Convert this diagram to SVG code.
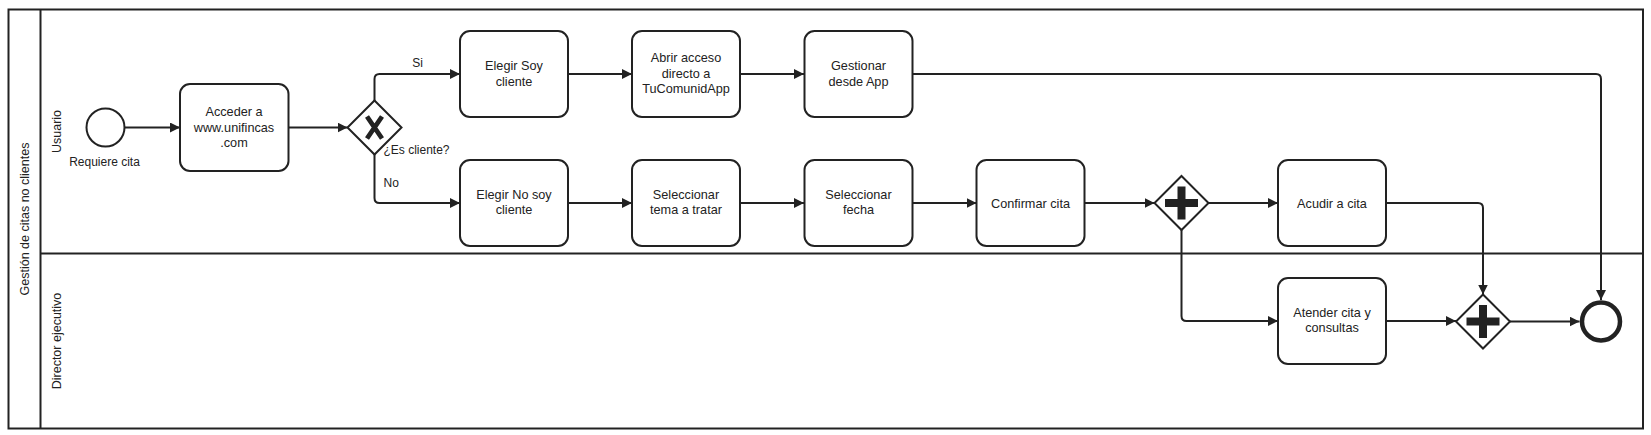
<svg xmlns="http://www.w3.org/2000/svg" width="1651" height="435" viewBox="0 0 1651 435">
<defs>
<style>
.ln{fill:none;stroke:#222;stroke-width:2}
.task{fill:#fff;stroke:#222;stroke-width:2}
.t{font-family:"Liberation Sans",Arial,sans-serif;font-size:12.7px;fill:#222;text-anchor:middle}
.s{font-family:"Liberation Sans",Arial,sans-serif;font-size:12px;fill:#222}
.lane{font-family:"Liberation Sans",Arial,sans-serif;font-size:12.5px;fill:#222;text-anchor:middle;dominant-baseline:central}
.gw{fill:#fff;stroke:#222;stroke-width:2}
.mk{fill:#222;stroke:none}
.conn{fill:none;stroke:#222;stroke-width:2;marker-end:url(#arr)}
</style>
<marker id="arr" markerUnits="userSpaceOnUse" markerWidth="11" markerHeight="11" refX="10" refY="5" orient="auto">
<path d="M0,0 L10,5 L0,10 z" fill="#222"/>
</marker>
</defs>
<rect width="1651" height="435" fill="#fff"/>

<g id="pool">
<rect x="8.5" y="9.5" width="1634.5" height="419" class="ln"/>
<line x1="40.5" y1="9.5" x2="40.5" y2="428.5" class="ln"/>
<line x1="40.5" y1="253.5" x2="1643" y2="253.5" class="ln"/>
<text class="lane" font-size="13.6px" transform="translate(24.5,219) rotate(-90)">Gestión de citas no clientes</text>
</g>
<g id="lane-usuario">
<text class="lane" transform="translate(56.5,131.5) rotate(-90)">Usuario</text>
</g>
<g id="lane-director">
<text class="lane" transform="translate(56.5,341) rotate(-90)">Director ejecutivo</text>
</g>

<g id="connectors">
<path class="conn" d="M125,127.5 H180"/>
<path class="conn" d="M288.5,127.5 H347.5"/>
<path class="conn" d="M374.5,101 V79 Q374.5,74 379.5,74 H460"/>
<path class="conn" d="M374.5,154 V198 Q374.5,203 379.5,203 H460"/>
<path class="conn" d="M568,74 H632"/>
<path class="conn" d="M740,74 H804"/>
<path class="conn" d="M912.5,74 H1596 Q1601,74 1601,79 V300"/>
<path class="conn" d="M568,203 H632"/>
<path class="conn" d="M740,203 H804"/>
<path class="conn" d="M912.5,203 H976.5"/>
<path class="conn" d="M1084.5,203 H1154.5"/>
<path class="conn" d="M1208.5,203 H1278"/>
<path class="conn" d="M1181.5,230 V316 Q1181.5,321 1186.5,321 H1278"/>
<path class="conn" d="M1386,203 H1478 Q1483,203 1483,208 V294.5"/>
<path class="conn" d="M1386,321 H1456"/>
<path class="conn" d="M1510,321.5 H1579.5"/>
<text class="s" x="417.5" y="67" text-anchor="middle">Si</text>
<text class="s" x="383.5" y="187">No</text>
</g>

<g id="start">
<circle cx="105.5" cy="127.5" r="19" fill="#fff" stroke="#222" stroke-width="2"/>
<text class="s" x="104.5" y="166" text-anchor="middle">Requiere cita</text>
</g>

<g id="task-acceder">
<rect class="task" x="180" y="84" width="108.5" height="87" rx="10"/>
<text class="t" x="234" y="116">Acceder a</text>
<text class="t" x="234" y="131.5">www.unifincas</text>
<text class="t" x="234" y="147">.com</text>
</g>

<g id="gw-escliente">
<path class="gw" d="M374.5,100.5 L401.5,127.5 L374.5,154.5 L347.5,127.5 Z"/>
<path d="M367,116.5 L382,138.5 M382,116.5 L367,138.5" stroke="#222" stroke-width="4.8" fill="none"/>
<text class="s" x="383.5" y="154">¿Es cliente?</text>
</g>

<g id="task-soy">
<rect class="task" x="460" y="31" width="108" height="86" rx="10"/>
<text class="t" x="514" y="70">Elegir Soy</text>
<text class="t" x="514" y="85.5">cliente</text>
</g>

<g id="task-abrir">
<rect class="task" x="632" y="31" width="108" height="86" rx="10"/>
<text class="t" x="686" y="62">Abrir acceso</text>
<text class="t" x="686" y="77.5">directo a</text>
<text class="t" x="686" y="93">TuComunidApp</text>
</g>

<g id="task-gestionar">
<rect class="task" x="804.5" y="31" width="108" height="86" rx="10"/>
<text class="t" x="858.5" y="70">Gestionar</text>
<text class="t" x="858.5" y="85.5">desde App</text>
</g>

<g id="task-nosoy">
<rect class="task" x="460" y="160" width="108" height="86" rx="10"/>
<text class="t" x="514" y="198.5">Elegir No soy</text>
<text class="t" x="514" y="214">cliente</text>
</g>

<g id="task-tema">
<rect class="task" x="632" y="160" width="108" height="86" rx="10"/>
<text class="t" x="686" y="198.5">Seleccionar</text>
<text class="t" x="686" y="214">tema a tratar</text>
</g>

<g id="task-fecha">
<rect class="task" x="804.5" y="160" width="108" height="86" rx="10"/>
<text class="t" x="858.5" y="198.5">Seleccionar</text>
<text class="t" x="858.5" y="214">fecha</text>
</g>

<g id="task-confirmar">
<rect class="task" x="976.5" y="160" width="108" height="86" rx="10"/>
<text class="t" x="1030.5" y="207.5">Confirmar cita</text>
</g>

<g id="gw-split">
<path class="gw" d="M1181.5,176 L1208.5,203 L1181.5,230 L1154.5,203 Z"/>
<rect class="mk" x="1165" y="199" width="33" height="8"/>
<rect class="mk" x="1177.5" y="186.5" width="8" height="33"/>
</g>

<g id="task-acudir">
<rect class="task" x="1278" y="160" width="108" height="86" rx="10"/>
<text class="t" x="1332" y="207.5">Acudir a cita</text>
</g>

<g id="task-atender">
<rect class="task" x="1278" y="278" width="108" height="86" rx="10"/>
<text class="t" x="1332" y="316.5">Atender cita y</text>
<text class="t" x="1332" y="332">consultas</text>
</g>

<g id="gw-join">
<path class="gw" d="M1483,294.5 L1510,321.5 L1483,348.5 L1456,321.5 Z"/>
<rect class="mk" x="1466.5" y="317.5" width="33" height="8"/>
<rect class="mk" x="1479" y="305" width="8" height="33"/>
</g>

<g id="end">
<circle cx="1601" cy="321.5" r="19" fill="#fff" stroke="#222" stroke-width="4.5"/>
</g>
</svg>
